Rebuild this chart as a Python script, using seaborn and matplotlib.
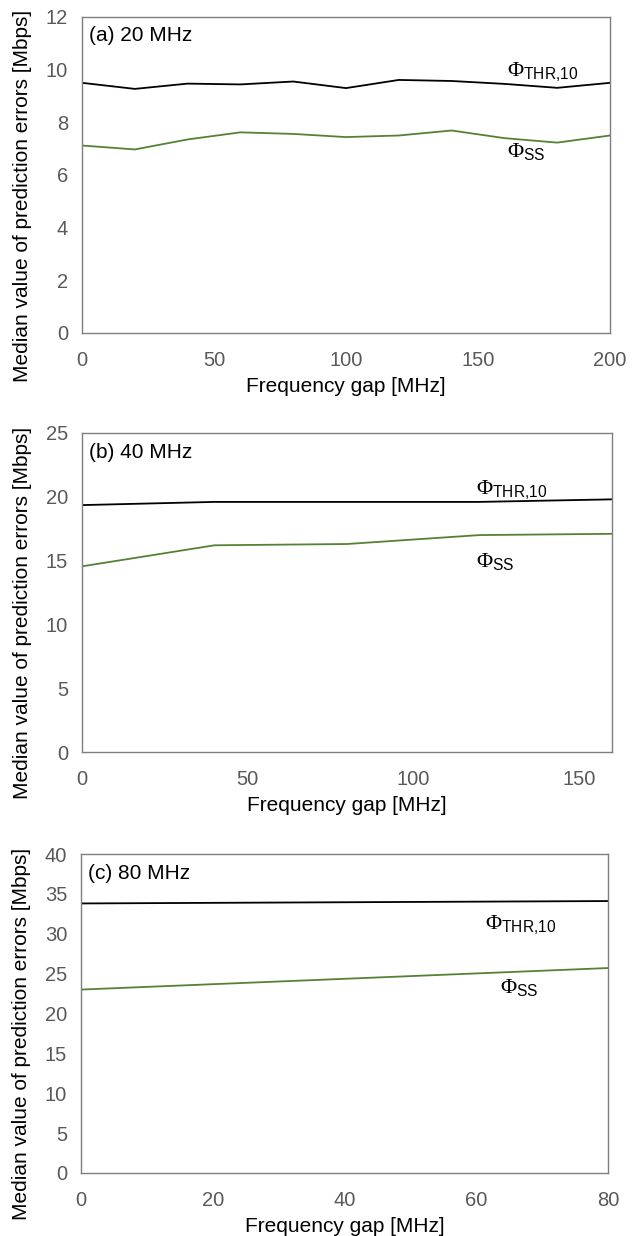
import matplotlib
matplotlib.use("Agg")
import matplotlib.pyplot as plt
import seaborn as sns
import pandas as pd

# ---- data ----
gap_20 = [0, 20, 40, 60, 80, 100, 120, 140, 160, 180, 200]
thr_20 = [9.50, 9.27, 9.47, 9.44, 9.55, 9.30, 9.61, 9.57, 9.46, 9.31, 9.50]
ss_20 = [7.12, 6.97, 7.35, 7.62, 7.56, 7.44, 7.50, 7.69, 7.40, 7.23, 7.50]

gap_40 = [0, 40, 80, 120, 160]
thr_40 = [19.35, 19.6, 19.6, 19.6, 19.8]
ss_40 = [14.55, 16.2, 16.3, 17.0, 17.1]

gap_80 = [0, 80]
thr_80 = [33.8, 34.1]
ss_80 = [23.0, 25.7]

panel_titles = ["(a) 20 MHz", "(b) 40 MHz", "(c) 80 MHz"]
y_ticks = [[0, 2, 4, 6, 8, 10, 12], [0, 5, 10, 15, 20, 25], [0, 5, 10, 15, 20, 25, 30, 35, 40]]
x_ticks = [[0, 50, 100, 150, 200], [0, 50, 100, 150], [0, 20, 40, 60, 80]]
x_max = [200, 160, 80]
thr_label = r"$\mathrm{\Phi}_{\mathsf{THR{,}10}}$"
ss_label = r"$\mathrm{\Phi}_{\mathsf{SS}}$"
# label anchor points (x, y) in data units
thr_label_pos = [(161, 9.9), (119, 20.5), (61.4, 31.1)]
ss_label_pos = [(161, 6.85), (119, 14.9), (63.6, 23.2)]

sns.set_theme(style="white")
plt.rcParams["font.family"] = ["Liberation Sans", "DejaVu Sans"]
plt.rcParams["mathtext.fontset"] = "custom"
plt.rcParams["mathtext.rm"] = "Liberation Serif"
plt.rcParams["mathtext.sf"] = "Liberation Sans"

fig = plt.figure(figsize=(6.4, 12.36), dpi=100)
W, H = 640, 1236
boxes = [(82, 610, 17, 333), (82, 612, 433, 752), (81, 608, 854, 1173)]

datasets = [(gap_20, thr_20, ss_20), (gap_40, thr_40, ss_40), (gap_80, thr_80, ss_80)]
black = "#000000"
green = "#548235"
tick_col = "#595959"

for i, ((l, r, t, b), (gx, thr, ss)) in enumerate(zip(boxes, datasets)):
    ax = fig.add_axes([l / W, 1 - b / H, (r - l) / W, (b - t) / H])
    df = pd.DataFrame({"gap": gx, "thr": thr, "ss": ss})
    sns.lineplot(data=df, x="gap", y="thr", ax=ax, color=black, lw=1.3)
    sns.lineplot(data=df, x="gap", y="ss", ax=ax, color=green, lw=1.3)

    ax.set_xlim(0, x_max[i])
    ax.set_ylim(y_ticks[i][0], y_ticks[i][-1])
    ax.set_xticks(x_ticks[i])
    ax.set_yticks(y_ticks[i])
    ax.tick_params(axis="both", length=0, labelsize=14.5, labelcolor=tick_col)
    ax.tick_params(axis="x", pad=13)
    ax.tick_params(axis="y", pad=10)
    for s in ax.spines.values():
        s.set_visible(True)
        s.set_color("#7f7f7f")
        s.set_linewidth(1.0)

    ax.set_xlabel("Frequency gap [MHz]", fontsize=15, color="black", labelpad=5)
    ax.set_ylabel("Median value of prediction errors [Mbps]", fontsize=15, color="black")
    ax.yaxis.set_label_coords(-0.095, 0.435)

    ax.text(0.013, 0.94, panel_titles[i], transform=ax.transAxes, fontsize=15,
            color="black", ha="left", va="center")
    ax.text(*thr_label_pos[i], thr_label, fontsize=16, color="black", ha="left", va="center")
    ax.text(*ss_label_pos[i], ss_label, fontsize=16, color="black", ha="left", va="center")

fig.savefig("out.png", dpi=100)
